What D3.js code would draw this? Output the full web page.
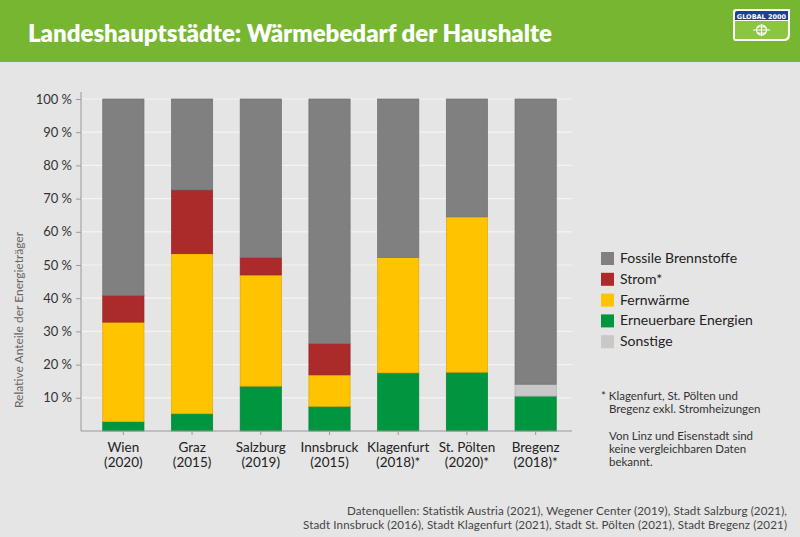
<!DOCTYPE html>
<html><head><meta charset="utf-8">
<script src="https://cdn.jsdelivr.net/npm/d3@7"></script>
<style>body{margin:0;background:#e5e5e5;}svg{display:block;font-family:Lato,"Open Sans",sans-serif;}</style>
</head><body>
<svg id="c" width="800" height="537"></svg>
<script>
const cities = ["Wien","Graz","Salzburg","Innsbruck","Klagenfurt","St. Pölten","Bregenz"];
const years = ["(2020)","(2015)","(2019)","(2015)","(2018)*","(2020)*","(2018)*"];
const erneuerbare = [2.8, 5.2, 13.5, 7.4, 17.5, 17.7, 10.5];
const fernwaerme = [30.0, 48.2, 33.5, 9.5, 34.8, 46.8, 0];
const strom = [8.0, 19.2, 5.2, 9.4, 0, 0, 0];
const sonstige = [0, 0, 0, 0, 0, 0, 3.6];
const fossile = [59.2, 27.4, 47.8, 73.7, 47.7, 35.5, 85.9];
const yTicks = [10,20,30,40,50,60,70,80,90,100];
const seriesNames = ["Erneuerbare Energien","Fernwärme","Strom*","Sonstige","Fossile Brennstoffe"];
const seriesColors = ["#00963f","#ffc300","#ab2a2a","#c8c8c8","#808080"];
const legendOrder = ["Fossile Brennstoffe","Strom*","Fernwärme","Erneuerbare Energien","Sonstige"];

const svg = d3.select("#c");
svg.append("rect").attr("width",800).attr("height",537).attr("fill","#e5e5e5");
// header
svg.append("rect").attr("width",800).attr("height",62).attr("fill","#76b630");
svg.append("text").attr("x",28).attr("y",42).attr("fill","#fff")
  .attr("font-size",24).attr("font-weight",800).attr("font-family","Lato")
  .attr("textLength",524).attr("lengthAdjust","spacingAndGlyphs")
  .text("Landeshauptstädte: Wärmebedarf der Haushalte");
// logo
const lg = svg.append("g").attr("transform","translate(733,9)");
lg.append("path").attr("d","M3,0 H57 V26 Q57,32 51,32 H3 Q0,32 0,29 V3 Q0,0 3,0 Z").attr("fill","#fff");
lg.append("path").attr("d","M4,2 H55 V11 H2 V4 Q2,2 4,2 Z").attr("fill","#1f3f8f");
lg.append("path").attr("d","M2,12 H55 V25 Q55,30 50,30 H2 Z").attr("fill","#8cc63f");
lg.append("text").attr("x",28.5).attr("y",9.5).attr("text-anchor","middle").attr("fill","#fff")
  .attr("font-size",6.5).attr("font-weight",900).attr("font-family","DejaVu Sans").text("GLOBAL 2000");
lg.append("circle").attr("cx",28.5).attr("cy",21).attr("r",5).attr("fill","none").attr("stroke","#fff").attr("stroke-width",1.2);
lg.append("path").attr("d","M20,21 H37 M28.5,15 V27 M24,18 H33 M24,24 H33").attr("stroke","#fff").attr("stroke-width",1);

// scales
const x = d3.scaleBand().domain(cities).range([89,570]).paddingInner(0.4).paddingOuter(0.2);
const y = d3.scaleLinear().domain([0,100]).range([431,99]);
const plotL = 81, plotR = 572;

// grid
svg.append("g").selectAll("line").data(yTicks).join("line")
  .attr("x1",plotL).attr("x2",plotR).attr("y1",d=>y(d)).attr("y2",d=>y(d))
  .attr("stroke","#f4f4f4").attr("stroke-width",1.2);

// stacked data
const rows = cities.map((c,i)=>({city:c,"Erneuerbare Energien":erneuerbare[i],"Fernwärme":fernwaerme[i],"Strom*":strom[i],"Sonstige":sonstige[i],"Fossile Brennstoffe":fossile[i]}));
const stack = d3.stack().keys(seriesNames)(rows);
const color = d3.scaleOrdinal().domain(seriesNames).range(seriesColors);
svg.append("g").selectAll("g").data(stack).join("g")
  .attr("fill",s=>color(s.key)).attr("stroke",s=>d3.color(color(s.key)).darker(0.4))
  .attr("stroke-width",0.7)
  .selectAll("rect").data(s=>s.filter(d=>d[1]-d[0]>0)).join("rect")
  .attr("x",d=>x(d.data.city)).attr("width",x.bandwidth())
  .attr("y",d=>y(d[1])).attr("height",d=>y(d[0])-y(d[1]));

// y axis
const yAxis = d3.axisLeft(y).tickValues(yTicks).tickFormat(d=>d+" %").tickSize(5).tickPadding(4);
const ya = svg.append("g").attr("transform",`translate(${plotL},0)`).call(yAxis);
ya.select(".domain").attr("stroke","#999").attr("d",`M0,92V431`);
ya.selectAll(".tick line").attr("stroke","#999");
ya.selectAll("text").attr("fill","#333").attr("font-size",13).attr("font-family","Lato");

// x axis
const xAxis = d3.axisBottom(x).tickSize(4).tickFormat("");
const xa = svg.append("g").attr("transform","translate(0,431)").call(xAxis);
xa.select(".domain").attr("stroke","#999").attr("d",`M${plotL},0H${plotR}`);
xa.selectAll(".tick line").attr("stroke","#999");
xa.selectAll(".tick").append("text").attr("fill","#222").attr("font-size",13.5).attr("font-family","Lato")
  .attr("text-anchor","middle")
  .each(function(d,i){
    const t=d3.select(this);
    t.append("tspan").attr("x",0).attr("y",21).text(d);
    t.append("tspan").attr("x",0).attr("y",36).text(years[cities.indexOf(d)]);
  });

// y label
svg.append("text").attr("transform","translate(23,320) rotate(-90)").attr("text-anchor","middle")
  .attr("fill","#666").attr("font-size",12).attr("font-family","Lato").text("Relative Anteile der Energieträger");

// legend
const leg = svg.append("g").attr("transform","translate(601,252)");
leg.selectAll("g").data(legendOrder).join("g").attr("transform",(d,i)=>`translate(0,${i*20.8})`)
  .each(function(d){
    const g=d3.select(this);
    g.append("rect").attr("width",13).attr("height",13).attr("fill",color(d));
    g.append("text").attr("x",19).attr("y",11).attr("fill","#222").attr("font-size",14).attr("font-family","Lato").text(d);
  });

// notes
const notes = svg.append("g").attr("font-size",11.5).attr("fill","#333").attr("font-family","Lato");
notes.append("text").attr("x",601).attr("y",400).text("* Klagenfurt, St. Pölten und");
notes.append("text").attr("x",609).attr("y",413).text("Bregenz exkl. Stromheizungen");
notes.append("text").attr("x",609).attr("y",440).text("Von Linz und Eisenstadt sind");
notes.append("text").attr("x",609).attr("y",453).text("keine vergleichbaren Daten");
notes.append("text").attr("x",609).attr("y",466).text("bekannt.");

// sources
const src = svg.append("g").attr("font-size",11.6).attr("fill","#444").attr("text-anchor","end").attr("font-family","Lato");
src.append("text").attr("x",787).attr("y",515).attr("textLength",440).attr("lengthAdjust","spacing")
  .text("Datenquellen: Statistik Austria (2021), Wegener Center (2019), Stadt Salzburg (2021),");
src.append("text").attr("x",787).attr("y",529).attr("textLength",484).attr("lengthAdjust","spacing")
  .text("Stadt Innsbruck (2016), Stadt Klagenfurt (2021), Stadt St. Pölten (2021), Stadt Bregenz (2021)");
</script>
</body></html>
